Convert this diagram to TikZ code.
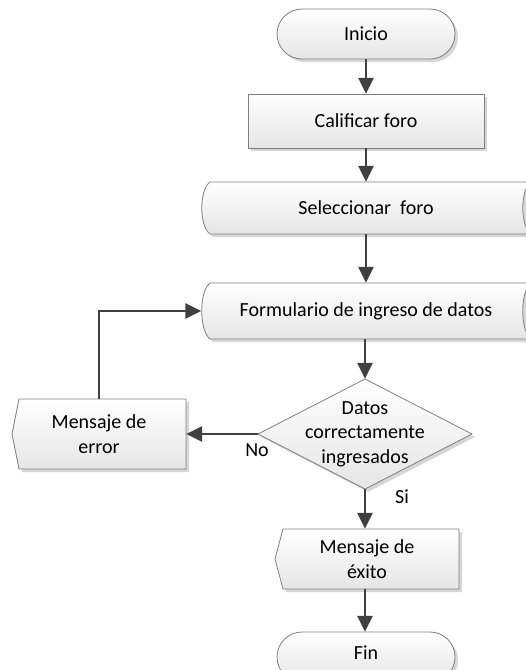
\documentclass[tikz,border=0pt]{standalone}
\usepackage{fontspec}
\setmainfont{Carlito}
\usetikzlibrary{arrows.meta}
\newcommand\fshape[2]{\path[shadowfill,#1,shift={(3,3)}] #2; \path[outline,#1] #2;}
\tikzset{
  outline/.style={draw=black!50, line width=0.8pt, top color=white, bottom color=black!10},
  shadowfill/.style={fill=black!16, draw=none},
  arr/.style={draw=black!75, line width=2.6pt, -{Triangle[length=16pt,width=15pt]}},
  txt/.style={font=\fontsize{20}{24.5}\selectfont, align=center, inner sep=0pt, draw=none, text=black},
  lbl/.style={font=\fontsize{20}{24.5}\selectfont, inner sep=0pt, text=black},
}
\begin{document}
\begin{tikzpicture}[x=1pt,y=-1pt]
\useasboundingbox (0,0) rectangle (526,670);
\clip (0,0) rectangle (526,670);
% shapes
\fshape{rounded corners=25pt}{(277,9) rectangle (455,59)}
\fshape{}{(248,94) rectangle (484,148)}
\fshape{}{(210,182) -- (531,182) .. controls (520,190) and (520,226) .. (531,234) -- (210,234) .. controls (199,226) and (199,190) .. (210,182) -- cycle}
\fshape{}{(210,283) -- (531,283) .. controls (520,291) and (520,331) .. (531,339) -- (210,339) .. controls (199,331) and (199,291) .. (210,283) -- cycle}
\fshape{}{(365,379) -- (472,434) -- (365,489) -- (258,434) -- cycle}
\fshape{}{(19,399) -- (186,399) -- (186,469) -- (19,469) -- (12,434) -- cycle}
\fshape{}{(283,529) -- (459,529) -- (459,589) -- (283,589) -- (275,559) -- cycle}
\fshape{rounded corners=25pt}{(277,632) rectangle (455,682)}
% text nodes
\node[txt, minimum width=178pt, minimum height=50pt] (ini) at (366,34) {Inicio};
\node[txt, minimum width=236pt, minimum height=54pt] (cal) at (366,121) {Calificar foro};
\node[txt, minimum width=329pt, minimum height=52pt] (sel) at (366,208) {Seleccionar\ \ foro};
\node[txt, minimum width=329pt, minimum height=56pt] (form) at (366,311) {Formulario de ingreso de datos};
\node[txt, minimum width=214pt, minimum height=110pt] (dat) at (365,434) {Datos\\correctamente\\ingresados};
\node[txt, minimum width=174pt, minimum height=70pt] (err) at (99,434) {Mensaje de\\error};
\node[txt, minimum width=184pt, minimum height=60pt] (exi) at (367,559) {Mensaje de\\éxito};
\node[txt, minimum width=178pt, minimum height=50pt] (fin) at (366,657) {};
\node[lbl] (fintxt) at (366,653) {Fin};
\node[lbl] (no) at (257,450) {No};
\node[lbl] (si) at (402,497) {Si};
% connectors
\draw[arr] (ini.south) -- (ini.south |- cal.north);
\draw[arr] (cal.south) -- (cal.south |- sel.north);
\draw[arr] (ini.south |- sel.south) -- (ini.south |- form.north);
\draw[arr] (dat.north |- form.south) -- (dat.north);
\draw[arr] (dat.west) -- (err.east);
\draw[arr] (dat.south) -- (dat.south |- exi.north);
\draw[arr] (dat.south |- exi.south) -- (dat.south |- fin.north);
\draw[arr] (err.north) |- (form.west);
\end{tikzpicture}
\end{document}
